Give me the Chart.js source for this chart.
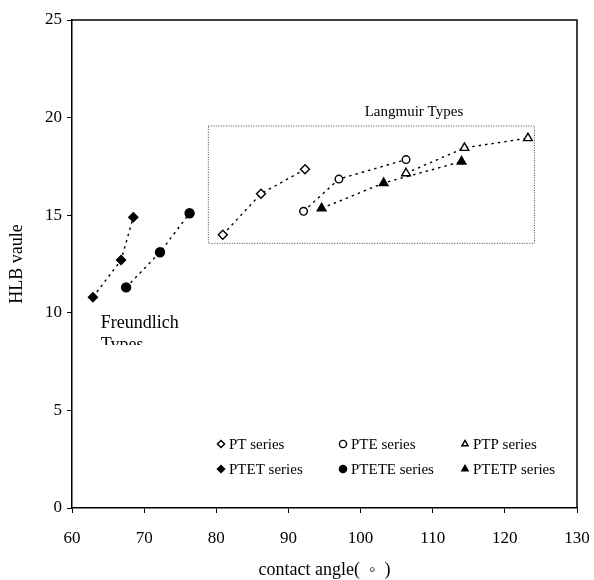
<!DOCTYPE html>
<html>
<head>
<meta charset="utf-8">
<script src="https://cdn.jsdelivr.net/npm/chart.js@4/dist/chart.umd.min.js"></script>
<style>
  body { margin: 0; background: #fff; }
  #wrap { width: 594px; height: 580px; }
</style>
</head>
<body>
<div id="wrap"><canvas id="chart" width="594" height="580"></canvas></div>
<script>
// values: contact angle (x) vs HLB value (y)
const ptX = [80.9, 86.2, 92.3];
const ptY = [14.0, 16.1, 17.35];
const pteX = [92.1, 97.0, 106.3];
const pteY = [15.2, 16.85, 17.85];
const ptpX = [106.3, 114.4, 123.2];
const ptpY = [17.15, 18.45, 18.95];
const ptetX = [62.9, 66.8, 68.5];
const ptetY = [10.8, 12.7, 14.9];
const pteteX = [67.5, 72.2, 76.3];
const pteteY = [11.3, 13.1, 15.1];
const ptetpX = [94.6, 103.2, 114.0];
const ptetpY = [15.35, 16.65, 17.75];

const xTicks = [60, 70, 80, 90, 100, 110, 120, 130];
const yTicks = [0, 5, 10, 15, 20, 25];

const serif = "'Liberation Serif', 'DejaVu Serif', serif";

// makes {x, y} pairs for a scatter dataset
function pts(xs, ys) {
    return xs.map((x, i) => ({ x: x, y: ys[i] }));
}

function series(label, xs, ys, style, filled, radius) {
    return {
        label: label,
        data: pts(xs, ys),
        showLine: true,
        borderColor: '#000',
        borderWidth: 1.4,
        borderDash: [2.5, 4],
        pointStyle: style,
        pointRadius: radius,
        pointHoverRadius: radius,
        pointBorderWidth: 1.4,
        pointBorderColor: '#000',
        pointBackgroundColor: filled ? '#000' : '#fff'
    };
}

const datasets = [
    series('PT series', ptX, ptY, 'rectRot', false, 4.5),
    series('PTE series', pteX, pteY, 'circle', false, 3.8),
    series('PTP series', ptpX, ptpY, 'triangle', false, 5),
    series('PTET series', ptetX, ptetY, 'rectRot', true, 4.5),
    series('PTETE series', pteteX, pteteY, 'circle', true, 4.5),
    series('PTETP series', ptetpX, ptetpY, 'triangle', true, 5)
];

// frame, annotations and the legend inside the plot
const extrasPlugin = {
    id: 'extras',
    afterDatasetsDraw(chart) {
        const ctx = chart.ctx;
        const a = chart.chartArea;
        const xs = chart.scales.x, ys = chart.scales.y;
        ctx.save();

        // box around plot (top and right sides)
        ctx.strokeStyle = '#000';
        ctx.lineWidth = 1.5;
        ctx.beginPath();
        ctx.moveTo(a.left, a.top);
        ctx.lineTo(a.right, a.top);
        ctx.lineTo(a.right, a.bottom);
        ctx.stroke();

        // dotted box of the Langmuir group
        const rx0 = xs.getPixelForValue(78.9), rx1 = xs.getPixelForValue(124.1);
        const ry0 = ys.getPixelForValue(19.57), ry1 = ys.getPixelForValue(13.56);
        ctx.lineWidth = 1;
        ctx.strokeStyle = '#444';
        ctx.setLineDash([1, 1.5]);
        ctx.strokeRect(rx0, ry0, rx1 - rx0, ry1 - ry0);
        ctx.setLineDash([]);

        ctx.fillStyle = '#000';
        ctx.font = '15px ' + serif;
        ctx.textAlign = 'center';
        ctx.textBaseline = 'alphabetic';
        ctx.fillText('Langmuir Types', xs.getPixelForValue(107.4), ys.getPixelForValue(20.1));

        // Freundlich label, second line cut off like the original
        const fx = xs.getPixelForValue(64.0);
        const fy = ys.getPixelForValue(9.2);
        ctx.font = '18px ' + serif;
        ctx.textAlign = 'left';
        ctx.fillText('Freundlich', fx, fy);
        ctx.save();
        ctx.beginPath();
        ctx.rect(fx - 5, fy + 5, 120, ys.getPixelForValue(8.35) - fy - 5);
        ctx.clip();
        ctx.fillText('Types', fx, fy + 22);
        ctx.restore();

        // legend: 3 columns x 2 rows
        const colX = [a.left + 149, a.left + 271, a.left + 393];
        const rowY = [a.top + 424, a.top + 449];
        ctx.font = '15px ' + serif;
        ctx.textBaseline = 'middle';
        chart.data.datasets.forEach((ds, i) => {
            const cx = colX[i % 3], cy = rowY[Math.floor(i / 3)];
            ctx.fillStyle = ds.pointBackgroundColor;
            ctx.strokeStyle = '#000';
            ctx.lineWidth = 1.4;
            Chart.helpers.drawPoint(ctx, { pointStyle: ds.pointStyle, radius: 3.6, rotation: 0, borderWidth: 1.4 }, cx, cy);
            ctx.fillStyle = '#000';
            ctx.fillText(ds.label, cx + 8, cy + 1);
        });
        ctx.restore();
    }
};

new Chart(document.getElementById('chart'), {
    type: 'scatter',
    data: { datasets: datasets },
    options: {
        responsive: false,
        animation: false,
        layout: { padding: { top: 20, right: 17, bottom: 0, left: 0 } },
        plugins: {
            legend: { display: false },
            tooltip: { enabled: false }
        },
        scales: {
            x: {
                type: 'linear',
                min: 60,
                max: 130,
                afterBuildTicks: s => { s.ticks = xTicks.map(v => ({ value: v })); },
                afterFit: s => { s.height = 72; s.paddingLeft = 0; s.paddingRight = 0; },
                grid: { drawOnChartArea: false, drawTicks: true, tickLength: 5, color: '#000', lineWidth: 1 },
                border: { display: true, color: '#000', width: 1.5 },
                ticks: { color: '#000', font: { family: serif, size: 17 }, padding: 15 },
                title: {
                    display: true,
                    text: 'contact angle(\u2002\u25e6\u2002)',
                    color: '#000',
                    font: { family: serif, size: 18, lineHeight: 1 },
                    padding: { top: 0, bottom: 1 }
                }
            },
            y: {
                type: 'linear',
                min: 0,
                max: 25,
                afterBuildTicks: s => { s.ticks = yTicks.map(v => ({ value: v })); },
                afterFit: s => { s.width = 72; s.paddingTop = 0; s.paddingBottom = 0; },
                grid: { drawOnChartArea: false, drawTicks: true, tickLength: 5, color: '#000', lineWidth: 1 },
                border: { display: true, color: '#000', width: 1.5 },
                ticks: { color: '#000', font: { family: serif, size: 17 }, padding: 5 },
                title: {
                    display: true,
                    text: 'HLB vaule',
                    color: '#000',
                    font: { family: serif, size: 18, lineHeight: 1 },
                    padding: { top: 8, bottom: 0 }
                }
            }
        }
    },
    plugins: [extrasPlugin]
});
</script>
</body>
</html>
